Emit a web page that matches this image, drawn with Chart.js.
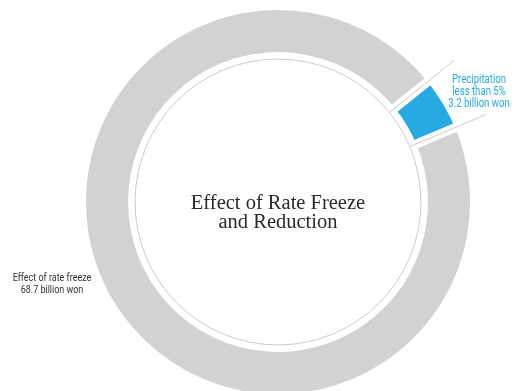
<!DOCTYPE html>
<html>
<head>
<meta charset="utf-8">
<script src="https://cdn.jsdelivr.net/npm/chart.js@4/dist/chart.umd.min.js"></script>
<style>
  html, body { margin: 0; padding: 0; background: #fff; }
  #wrap { width: 515px; height: 391px; }
</style>
</head>
<body>
<div id="wrap"><canvas id="c" width="515" height="391"></canvas></div>
<script>
// Slices of the total (billion won)
const categories = ['Effect of rate freeze', 'Precipitation less than 5%'];
const amounts = [68.7, 3.2];
const sliceColors = ['#d1d2d4', '#27aae1'];

// Callout texts
const freezeLabel = ['Effect of rate freeze', amounts[0] + ' billion won'];
const precipLabel = ['Precipitation', 'less than 5%', amounts[1] + ' billion won'];
const centerTitle = ['Effect of Rate Freeze', 'and Reduction'];

function narrowText(ctx, text, cx, baseline, size, squeeze, color) {
  ctx.save();
  ctx.translate(cx, baseline);
  ctx.scale(squeeze, 1);
  ctx.font = size + 'px Roboto';
  ctx.fillStyle = color;
  ctx.textAlign = 'center';
  ctx.textBaseline = 'alphabetic';
  ctx.fillText(text, 0, 0);
  ctx.restore();
}

const ringDecorations = {
  id: 'ringDecorations',
  afterDatasetsDraw(chart) {
    const ctx = chart.ctx;
    const arcs = chart.getDatasetMeta(0).data;
    const { x, y, innerRadius, outerRadius } = arcs[0];
    ctx.save();

    // white gaps on the slice boundaries
    ctx.strokeStyle = '#ffffff';
    ctx.lineWidth = 9;
    arcs.forEach(a => {
      const c = Math.cos(a.startAngle), s = Math.sin(a.startAngle);
      ctx.beginPath();
      ctx.moveTo(x + c * (innerRadius - 1), y + s * (innerRadius - 1));
      ctx.lineTo(x + c * (outerRadius + 2), y + s * (outerRadius + 2));
      ctx.stroke();
    });

    // thin inner ring
    ctx.strokeStyle = '#cbcbcb';
    ctx.lineWidth = 1;
    ctx.beginPath();
    ctx.arc(x, y, innerRadius - 7, 0, Math.PI * 2);
    ctx.stroke();

    // hairlines running through the gaps
    arcs.forEach(a => {
      const c = Math.cos(a.startAngle), s = Math.sin(a.startAngle);
      ctx.beginPath();
      ctx.moveTo(x + c * (innerRadius - 7), y + s * (innerRadius - 7));
      ctx.lineTo(x + c * (outerRadius + 34), y + s * (outerRadius + 34));
      ctx.stroke();
    });

    // centre title
    ctx.fillStyle = '#2a2a2a';
    ctx.font = '20.5px "Liberation Serif"';
    ctx.textAlign = 'center';
    ctx.textBaseline = 'alphabetic';
    ctx.fillText(centerTitle[0], x, 209);
    ctx.fillText(centerTitle[1], x, 228);

    // callouts
    narrowText(ctx, freezeLabel[0], 52, 281, 11.5, 0.78, '#333333');
    narrowText(ctx, freezeLabel[1], 52, 293, 11.5, 0.78, '#333333');
    precipLabel.forEach((t, i) => narrowText(ctx, t, 479, 83 + i * 12, 12, 0.8, sliceColors[1]));

    ctx.restore();
  }
};

new Chart(document.getElementById('c'), {
  type: 'doughnut',
  data: {
    labels: categories,
    datasets: [{
      data: amounts,
      backgroundColor: sliceColors,
      borderWidth: 0,
      clip: false
    }]
  },
  options: {
    responsive: false,
    animation: false,
    rotation: 67.2,
    radius: 192,
    cutout: '78.1%',
    layout: { padding: { left: 41, right: 0, top: 13, bottom: 0 } },
    plugins: {
      legend: { display: false },
      tooltip: { enabled: false }
    }
  },
  plugins: [ringDecorations]
});
</script>
</body>
</html>
